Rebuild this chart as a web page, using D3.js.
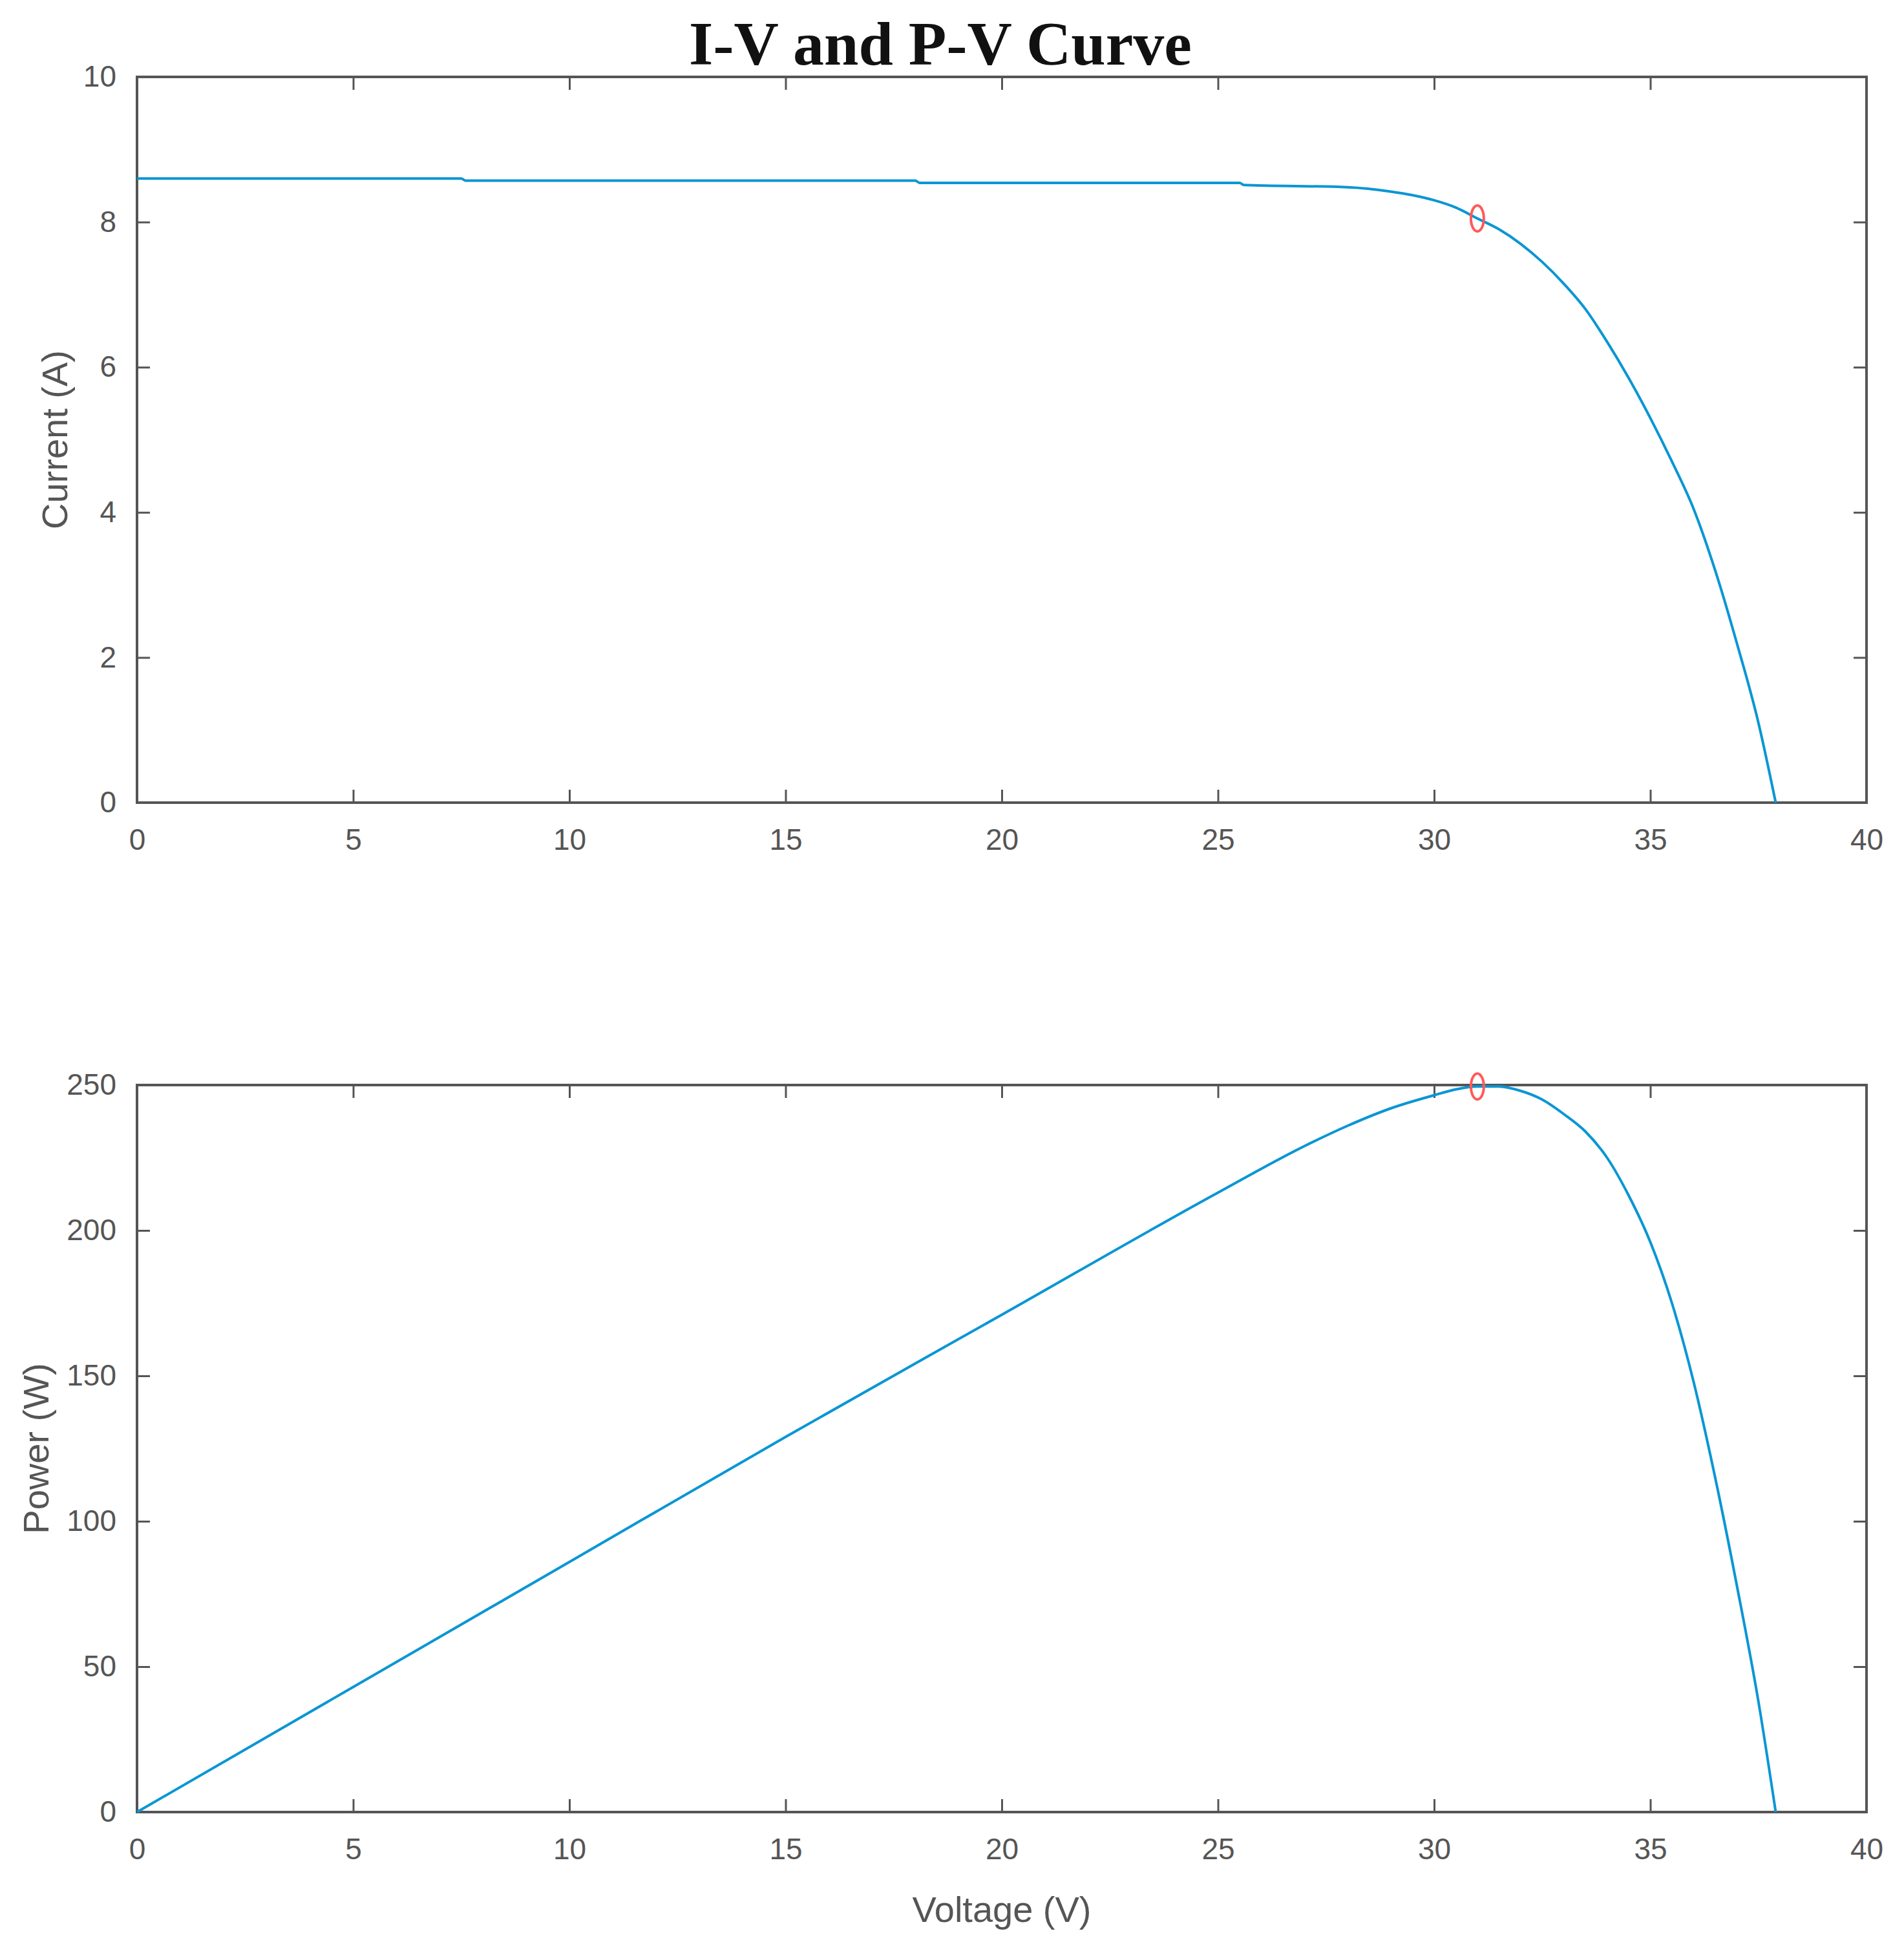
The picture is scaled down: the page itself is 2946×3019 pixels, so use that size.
<!DOCTYPE html>
<html lang="en">
<head>
<meta charset="UTF-8">
<title>I-V and P-V Curve</title>
<script src="https://d3js.org/d3.v7.min.js"></script>
<style>
  body { margin: 0; background: #fff; }
  .tick text { font-family: "Liberation Sans", Arial, sans-serif; font-size: 46px; fill: #555; }
  .lbl { font-family: "Liberation Sans", Arial, sans-serif; font-size: 56px; fill: #555; }
  .title { font-family: "Liberation Serif", "Times New Roman", serif; font-size: 96px; font-weight: bold; fill: #111; }
</style>
</head>
<body>
<svg id="chart" width="2946" height="3019"></svg>
<script>
// I-V curve
const ivVoltage = [0, 7.5, 7.6, 18, 18.1, 25.5, 25.6, 28, 29, 29.5, 30, 30.5, 31, 31.5, 32, 32.5, 33, 33.5, 34, 34.5, 35, 35.5, 36, 36.5, 37, 37.5, 37.9];
const ivCurrent = [8.6, 8.6, 8.57, 8.57, 8.54, 8.54, 8.51, 8.48, 8.42, 8.37, 8.3, 8.2, 8.05, 7.9, 7.7, 7.45, 7.15, 6.8, 6.35, 5.85, 5.3, 4.7, 4.05, 3.2, 2.2, 1.1, 0];
// P-V curve
const pvVoltage = [0, 5, 10, 15, 20, 25, 27, 28, 29, 30, 30.5, 31, 31.5, 32, 32.5, 33, 33.5, 34, 34.5, 35, 35.5, 36, 36.5, 37, 37.5, 37.9];
const pvPower = [0, 43, 86, 129, 171, 213, 229, 236, 242, 246.5, 248.5, 249.5, 249.5, 248, 245, 240, 234, 225, 212, 196, 175, 148, 115, 78, 38, 0];
// maximum power point
const mppVoltage = 31, mppCurrent = 8.05, mppPower = 249.5;

const xTicks = [0, 5, 10, 15, 20, 25, 30, 35, 40];
const iTicks = [0, 2, 4, 6, 8, 10];
const pTicks = [0, 50, 100, 150, 200, 250];

const svg = d3.select("#chart");
const left = 212, right = 2888;
const frame = "#555";
const lineColor = "#0a96d4";

svg.append("text").attr("class", "title")
  .attr("x", 1455).attr("y", 100).attr("text-anchor", "middle")
  .text("I-V and P-V Curve");

function panel(top, bottom, yDomain, yTicks, xs, ys, mx, my, yLabel, labelX, showXLabel) {
  const x = d3.scaleLinear().domain([0, 40]).range([left, right]);
  const y = d3.scaleLinear().domain(yDomain).range([bottom, top]);
  const g = svg.append("g");
  const tl = 20;

  const styleAxis = sel => {
    sel.select(".domain").remove();
    sel.selectAll(".tick line").attr("stroke", frame).attr("stroke-width", 3);
  };
  g.append("g").attr("transform", `translate(0,${bottom})`)
    .call(d3.axisBottom(x).tickValues(xTicks).tickSize(-tl).tickPadding(tl + 20).tickFormat(d3.format("d")))
    .call(styleAxis);
  g.append("g").attr("transform", `translate(0,${top})`)
    .call(d3.axisTop(x).tickValues(xTicks).tickSize(-tl).tickFormat(""))
    .call(styleAxis);
  g.append("g").attr("transform", `translate(${left},0)`)
    .call(d3.axisLeft(y).tickValues(yTicks).tickSize(-tl).tickPadding(tl + 12).tickFormat(d3.format("d")))
    .call(styleAxis);
  g.append("g").attr("transform", `translate(${right},0)`)
    .call(d3.axisRight(y).tickValues(yTicks).tickSize(-tl).tickFormat(""))
    .call(styleAxis);

  g.append("rect").attr("x", left).attr("y", top)
    .attr("width", right - left).attr("height", bottom - top)
    .attr("fill", "none").attr("stroke", frame).attr("stroke-width", 4);

  const line = d3.line().curve(d3.curveMonotoneX).x(d => x(d[0])).y(d => y(d[1]));
  g.append("path").datum(d3.zip(xs, ys))
    .attr("d", line).attr("fill", "none")
    .attr("stroke", lineColor).attr("stroke-width", 4);

  g.append("ellipse").attr("cx", x(mx)).attr("cy", y(my))
    .attr("rx", 10).attr("ry", 20)
    .attr("fill", "none").attr("stroke", "#ff5a5a").attr("stroke-width", 4);

  g.append("text").attr("class", "lbl")
    .attr("transform", `translate(${labelX},${(top + bottom) / 2}) rotate(-90)`)
    .attr("text-anchor", "middle").text(yLabel);
  if (showXLabel) {
    g.append("text").attr("class", "lbl")
      .attr("x", (left + right) / 2).attr("y", bottom + 170)
      .attr("text-anchor", "middle").text("Voltage (V)");
  }
}

panel(119, 1242, [0, 10], iTicks, ivVoltage, ivCurrent, mppVoltage, mppCurrent, "Current (A)", 104, false);
panel(1679, 2804, [0, 250], pTicks, pvVoltage, pvPower, mppVoltage, mppPower, "Power (W)", 75, true);
</script>
</body>
</html>
